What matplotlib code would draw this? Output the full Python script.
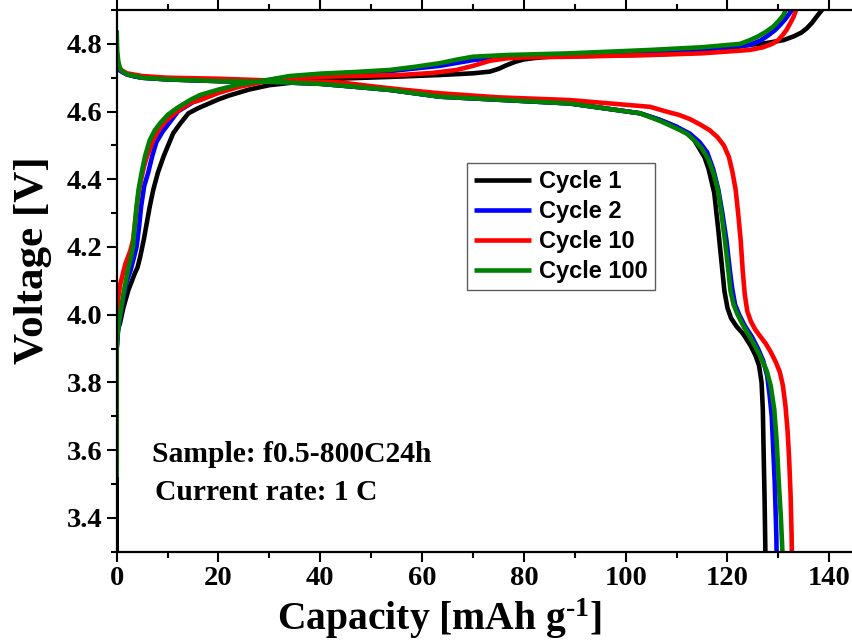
import matplotlib
matplotlib.use("Agg")
import matplotlib.pyplot as plt
from matplotlib.ticker import MultipleLocator

plt.rcParams['font.family'] = ['Liberation Serif', 'DejaVu Serif']
plt.rcParams['mathtext.fontset'] = 'custom'
plt.rcParams['mathtext.rm'] = 'Liberation Serif:bold'
plt.rcParams['mathtext.bf'] = 'Liberation Serif:bold'
plt.rcParams['mathtext.it'] = 'Liberation Serif:bold'

# ---- charge curves (capacity mAh/g, voltage V) ----
c1_chg_cap = [0, 0, 0.3, 0.65, 1.3, 2.3, 3.0, 3.5, 4.1, 4.6, 5.3, 5.9, 6.5, 7.2, 8.1, 9.2, 10.1, 11.1,
              12.5, 14.1, 16, 18, 20, 22, 26, 30, 36, 45, 55, 63.5, 70, 73.3, 75, 76.6, 78.3, 80, 82,
              85, 95, 105, 115, 124.4, 127.5, 131, 133, 134.5, 135.6, 136.6, 137.5, 138.3, 138.8]
c1_chg_v = [3.25, 3.9, 3.96, 3.975, 4.02, 4.073, 4.1, 4.12, 4.14, 4.17, 4.22, 4.27, 4.32, 4.37, 4.42,
            4.467, 4.5, 4.536, 4.565, 4.595, 4.61, 4.623, 4.636, 4.647, 4.665, 4.678, 4.688, 4.698,
            4.703, 4.708, 4.713, 4.718, 4.726, 4.737, 4.747, 4.754, 4.758, 4.762, 4.765, 4.768, 4.775,
            4.797, 4.802, 4.811, 4.822, 4.833, 4.846, 4.862, 4.88, 4.895, 4.905]

c2_chg_cap = [0, 0, 0.2, 0.5, 1.3, 2, 2.7, 3.4, 3.9, 4.4, 4.8, 5.4, 6.2, 7, 7.8, 9, 10.5, 12, 15, 17,
              20, 24, 29.5, 34, 40, 47, 54, 63.5, 70, 76.6, 89, 104.8, 115, 124.4, 126.5, 128, 129.3,
              130.3, 131.3, 132.2, 132.9]
c2_chg_v = [3.55, 3.9, 3.95, 3.975, 4.05, 4.1, 4.13, 4.17, 4.2, 4.26, 4.32, 4.38, 4.42, 4.47, 4.51,
            4.54, 4.57, 4.6, 4.628, 4.64, 4.66, 4.677, 4.692, 4.703, 4.71, 4.715, 4.72, 4.735, 4.752,
            4.763, 4.768, 4.777, 4.785, 4.797, 4.81, 4.825, 4.84, 4.855, 4.872, 4.89, 4.905]

c10_chg_cap = [0, 0, 0.1, 0.3, 0.7, 1.2, 1.7, 2.2, 2.7, 3.2, 3.5, 3.8, 4.3, 4.8, 5.4, 6.0, 7.2, 8.2,
               9.5, 11.8, 14.4, 16.4, 20, 24, 29.5, 34, 40, 47, 55.7, 62, 66.8, 70, 73.3, 76.5, 80, 89,
               104.8, 115, 124.4, 127, 128.8, 129.9, 130.8, 131.6, 132.3, 133, 133.6]
c10_chg_v = [3.6, 3.95, 4.0, 4.05, 4.09, 4.12, 4.15, 4.17, 4.19, 4.22, 4.26, 4.3, 4.36, 4.4, 4.44, 4.47,
             4.516, 4.545, 4.57, 4.6, 4.625, 4.634, 4.655, 4.673, 4.69, 4.7, 4.703, 4.705, 4.708,
             4.714, 4.723, 4.735, 4.75, 4.757, 4.76, 4.762, 4.767, 4.772, 4.782, 4.79, 4.8, 4.81,
             4.825, 4.841, 4.86, 4.88, 4.905]

c100_chg_cap = [0, 0, 0.15, 0.4, 0.8, 1.3, 1.8, 2.3, 2.8, 3.2, 3.6, 3.9, 4.3, 4.9, 5.6, 6.5, 7.5, 8.5,
                10, 11.8, 14.4, 16.4, 20, 24, 29.5, 34, 40, 47, 53.7, 58.5, 63.5, 67, 70, 76.6, 89,
                104.8, 115, 122.5, 124.4, 126, 127.5, 129, 130.2, 131, 131.6]
c100_chg_v = [3.52, 3.9, 3.94, 3.975, 4.01, 4.06, 4.1, 4.14, 4.17, 4.2, 4.27, 4.32, 4.37, 4.42, 4.47,
              4.516, 4.545, 4.565, 4.59, 4.61, 4.634, 4.649, 4.665, 4.68, 4.693, 4.705, 4.712, 4.717,
              4.723, 4.732, 4.743, 4.754, 4.762, 4.767, 4.772, 4.782, 4.79, 4.80, 4.811, 4.822, 4.835,
              4.851, 4.87, 4.885, 4.905]

# ---- discharge curves ----
c1_dis_cap = [0, 0.1, 0.3, 0.6, 1, 2, 3.5, 5, 10, 20, 30, 40, 47, 53.7, 63.5, 75, 89, 102.8, 106.8,
              110, 112.6, 113.5, 115.5, 116.3, 117.4, 118.2, 118.8, 119.4, 120.0, 120.7, 121.8, 123,
              124.5, 125.5, 126.2, 126.7, 126.95, 127.1, 127.3, 127.5]
c1_dis_v = [4.74, 4.735, 4.727, 4.722, 4.718, 4.71, 4.704, 4.7, 4.695, 4.69, 4.688, 4.682, 4.673,
            4.664, 4.644, 4.635, 4.624, 4.595, 4.575, 4.555, 4.53, 4.515, 4.465, 4.43, 4.36, 4.25,
            4.16, 4.07, 4.02, 3.99, 3.965, 3.945, 3.91, 3.88, 3.85, 3.8, 3.72, 3.6, 3.45, 3.25]

c2_dis_cap = [0, 0.1, 0.3, 0.6, 1, 2, 3.5, 5, 10, 20, 30, 40, 47, 53.7, 63.5, 75, 89, 102.8, 106.8,
              110, 112.6, 114.5, 116, 117.2, 118.2, 119, 119.8, 120.4, 120.9, 121.5, 122.3, 123.5,
              124.8, 126, 127, 127.8, 128.3, 128.7, 129.0, 129.3, 129.6, 129.7]
c2_dis_v = [4.74, 4.735, 4.727, 4.722, 4.718, 4.71, 4.704, 4.7, 4.695, 4.69, 4.688, 4.682, 4.673,
            4.664, 4.644, 4.635, 4.624, 4.595, 4.575, 4.555, 4.535, 4.51, 4.48, 4.43, 4.37, 4.3, 4.22,
            4.14, 4.08, 4.03, 4.0, 3.965, 3.935, 3.9, 3.865, 3.82, 3.76, 3.7, 3.6, 3.5, 3.35, 3.25]

c10_dis_cap = [0, 0.1, 0.3, 0.6, 1, 2, 5, 10, 20, 30, 40, 44, 50, 56, 63.5, 75, 89, 104.8, 108, 110.5,
               112.6, 114.6, 116.5, 118, 119.3, 120.3, 121, 121.6, 122.1, 122.6, 123.0, 123.4, 123.9,
               124.6, 125.5, 126.5, 127.5, 128.5, 129.5, 130.3, 130.9, 131.4, 131.8, 132.1, 132.4,
               132.6, 132.7]
c10_dis_v = [4.75, 4.745, 4.735, 4.728, 4.722, 4.713, 4.705, 4.70, 4.697, 4.692, 4.688, 4.686, 4.675,
             4.665, 4.654, 4.642, 4.634, 4.614, 4.6, 4.59, 4.578, 4.562, 4.545, 4.525, 4.5, 4.465,
             4.42, 4.37, 4.3, 4.22, 4.13, 4.06, 4.01, 3.98, 3.955, 3.935, 3.915, 3.89, 3.86, 3.83,
             3.79, 3.73, 3.66, 3.58, 3.47, 3.35, 3.25]

c100_dis_cap = [0, 0.1, 0.3, 0.6, 1, 2, 5, 10, 20, 30, 40, 47, 53.7, 63.5, 75, 89, 102.8, 106.8, 110,
                112, 113.5, 115, 116.2, 117.2, 118.1, 118.8, 119.5, 120.1, 120.6, 121.2, 122, 123.2,
                124.4, 125.5, 126.5, 127.7, 128.5, 129.2, 129.7, 130.1, 130.5, 130.8, 130.9]
c100_dis_v = [4.84, 4.78, 4.75, 4.73, 4.72, 4.71, 4.7, 4.695, 4.69, 4.688, 4.682, 4.673, 4.664, 4.644,
              4.635, 4.624, 4.595, 4.572, 4.55, 4.535, 4.515, 4.49, 4.46, 4.42, 4.37, 4.3, 4.22, 4.14,
              4.07, 4.03, 4.0, 3.965, 3.935, 3.905, 3.875, 3.835, 3.79, 3.72, 3.62, 3.5, 3.4, 3.3,
              3.25]

labels = ['Cycle 1', 'Cycle 2', 'Cycle 10', 'Cycle 100']
colors = ['#000000', '#0000ff', '#ff0000', '#008000']

curves = [
    (c1_chg_cap, c1_chg_v, c1_dis_cap, c1_dis_v),
    (c2_chg_cap, c2_chg_v, c2_dis_cap, c2_dis_v),
    (c10_chg_cap, c10_chg_v, c10_dis_cap, c10_dis_v),
    (c100_chg_cap, c100_chg_v, c100_dis_cap, c100_dis_v),
]

fig = plt.figure(figsize=(8.53, 6.41), dpi=100)
ax = fig.add_axes([116.7 / 853, 1 - 551.7 / 641, 738.0 / 853, 541.7 / 641])

for (cc, cv, dc, dv), lab, col in zip(curves, labels, colors):
    ax.plot(cc, cv, color=col, lw=3.3, label=lab, solid_joinstyle='round', solid_capstyle='butt')
    ax.plot(dc, dv, color=col, lw=3.3, solid_joinstyle='round', solid_capstyle='butt')

ax.set_xlim(0, 145)
ax.set_ylim(3.3, 4.9)
ax.xaxis.set_major_locator(MultipleLocator(20))
ax.xaxis.set_minor_locator(MultipleLocator(10))
ax.yaxis.set_major_locator(MultipleLocator(0.2))
ax.yaxis.set_minor_locator(MultipleLocator(0.1))
ax.yaxis.set_major_formatter(plt.FuncFormatter(lambda v, p: f"{v:.1f}"))

for s in ax.spines.values():
    s.set_linewidth(1.6)
ax.spines['right'].set_visible(False)
ax.tick_params(axis='both', which='major', direction='out', length=7, width=1.5,
               labelsize=20.5, top=True)
ax.tick_params(axis='both', which='minor', direction='out', length=4, width=1.5, top=True)
ax.tick_params(axis='x', which='both', labeltop=False)
for t in ax.get_xticklabels() + ax.get_yticklabels():
    t.set_fontweight('bold')

ax.set_xlabel('Capacity [mAh g$^{\\text{-1}}$]', fontsize=28.5, fontweight='bold')
ax.xaxis.set_label_coords(0.437, -0.082)
ax.set_ylabel('Voltage [V]', fontsize=31, fontweight='bold')
ax.yaxis.set_label_coords(-0.087, 0.538)

leg = ax.legend(loc='upper left', bbox_to_anchor=(0.4747, 0.7176), frameon=True, fancybox=False,
                prop={'family': 'Liberation Sans', 'weight': 'bold', 'size': 17},
                handlelength=2.4, handletextpad=0.35, labelspacing=0.3, borderpad=0.3,
                borderaxespad=0)
leg.get_frame().set_edgecolor('#333333')
leg.get_frame().set_linewidth(1.0)
for h in leg.get_lines():
    h.set_linewidth(3.3)

ax.text(0.048, 0.165, 'Sample: f0.5-800C24h', transform=ax.transAxes, fontsize=21.3,
        fontweight='bold', ha='left', va='baseline')
ax.text(0.052, 0.095, 'Current rate: 1 C', transform=ax.transAxes, fontsize=21.3,
        fontweight='bold', ha='left', va='baseline')

fig.savefig('out.png', dpi=100)
